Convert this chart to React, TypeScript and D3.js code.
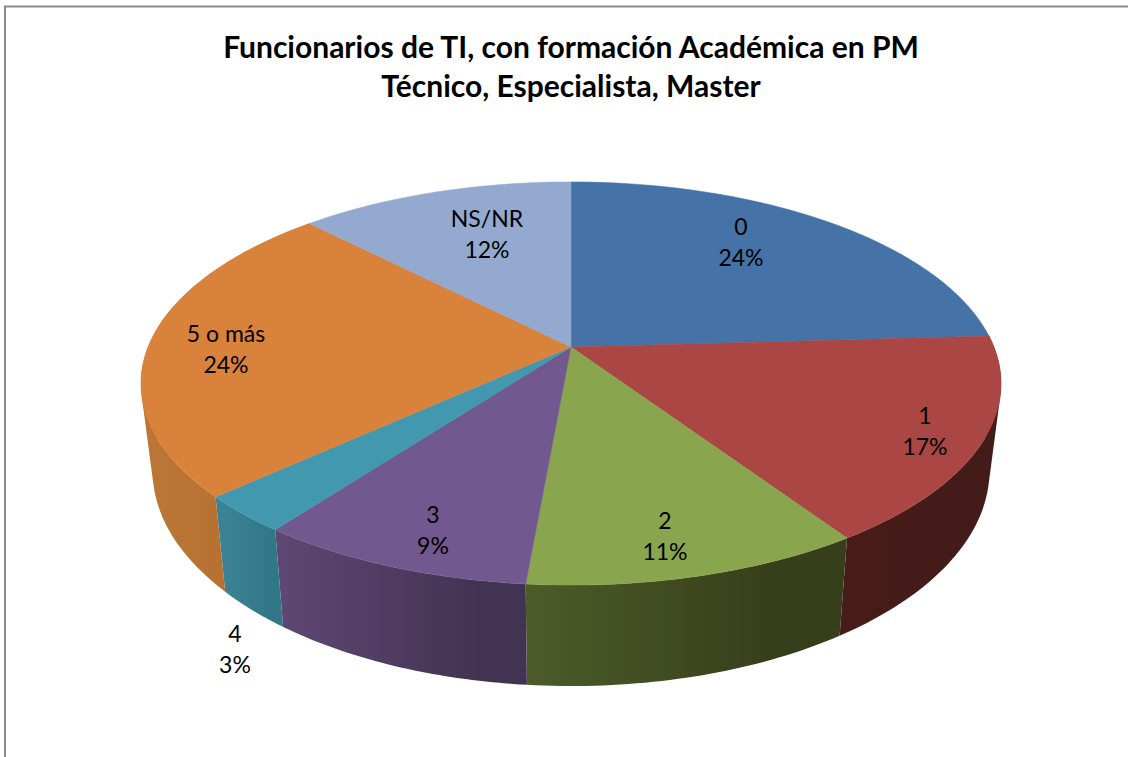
import { useEffect, useRef } from 'react';
import * as d3 from 'd3';

const categories = ['0', '1', '2', '3', '4', '5 o más', 'NS/NR'];
const shares = [24.1, 16.55, 10.75, 8.8, 3, 24.49, 12.31];
const topColors = ['#4572a7', '#aa4643', '#89a54e', '#71588f', '#4198af', '#d9823c', '#93a9cf'];
const wallLeft = ['#2b4566', '#471c19', '#4c5c28', '#5e4772', '#3b8295', '#bb7635', '#5a6a85'];
const wallRight = ['#2b4566', '#431b18', '#363e1b', '#433353', '#327788', '#b36e30', '#5a6a85'];
const titleLines = ['Funcionarios de TI, con formación Académica en PM', 'Técnico, Especialista, Master'];

const width = 1128;
const height = 757;
const cx = 571;
const cy = 347;

// label centres, not derived from the slices because the original placed them by hand
const labelSpots = [[741, 243], [925, 432], [665, 537], [433, 531], [235, 650], [226, 350], [487, 235]];

// the pie is seen in perspective: the centre sits above the middle of the ellipse
const a = 423;
const b = 195;
const q = 0.181;
const topPoint = (angle: number): [number, number] => {
    const u = Math.sin(angle);
    const v = -Math.cos(angle);
    const d = 1 - q * v;
    return [cx + (a * u) / d, cy + (b * v) / d];
};
const bottomPoint = (angle: number): [number, number] => {
    const [x, y] = topPoint(angle);
    return [cx + 0.973 * (x - cx), 1.07 * y + 60];
};

const App = () => {
    const chartRef = useRef<SVGSVGElement>(null);

    useEffect(() => {
        const svg = d3.select(chartRef.current);
        svg.selectAll('*').remove();

        const arcs = d3.pie<number>().sort(null)(shares);
        const line = d3.line();
        const sample = (s: d3.PieArcDatum<number>) =>
            d3.range(0, 41).map(i => s.startAngle + ((s.endAngle - s.startAngle) * i) / 40);

        // frame, cut off by the right and bottom edges
        svg.append('path')
            .attr('d', `M5,${height}V6.5H${width}`)
            .attr('fill', 'none')
            .attr('stroke', '#8a8a8a')
            .attr('stroke-width', 2);

        const defs = svg.append('defs');
        arcs.forEach((s, i) => {
            const angles = sample(s);
            const xs = angles.map(t => bottomPoint(t)[0]);
            const grad = defs.append('linearGradient')
                .attr('id', `wall-${i}`)
                .attr('gradientUnits', 'userSpaceOnUse')
                .attr('x1', d3.min(xs))
                .attr('x2', d3.max(xs))
                .attr('y1', 0)
                .attr('y2', 0);
            grad.append('stop').attr('offset', 0).attr('stop-color', wallLeft[i]);
            grad.append('stop').attr('offset', 0.8).attr('stop-color', wallRight[i]);
        });

        // side walls as small quads, so the outline also follows the tangent at both ends
        const wallPath = (s: d3.PieArcDatum<number>) => {
            const angles = sample(s);
            return d3.pairs(angles).map(([t0, t1]) => {
                const quad = [topPoint(t0), topPoint(t1), bottomPoint(t1), bottomPoint(t0)];
                return line(d3.polygonArea(quad) < 0 ? quad.reverse() : quad) + 'Z';
            }).join('');
        };
        svg.append('g')
            .selectAll('path')
            .data(arcs.filter((_, i) => i >= 1 && i <= 5))
            .join('path')
            .attr('d', wallPath)
            .attr('fill', s => `url(#wall-${s.index})`);

        // top faces
        svg.append('g')
            .selectAll('path')
            .data(arcs)
            .join('path')
            .attr('d', s => line([[cx, cy], ...sample(s).map(topPoint)]) + 'Z')
            .attr('fill', s => topColors[s.index])
            .attr('stroke', s => topColors[s.index])
            .attr('stroke-width', 0.5);

        const title = svg.append('text')
            .attr('text-anchor', 'middle')
            .attr('font-family', 'Lato')
            .attr('font-weight', 700)
            .attr('font-size', 30)
            .attr('fill', '#000');
        titleLines.forEach((t, i) => {
            title.append('tspan').attr('x', cx).attr('y', 58 + i * 39).text(t);
        });

        const total = d3.sum(shares);
        const labels = svg.append('g')
            .attr('text-anchor', 'middle')
            .attr('font-family', 'Lato')
            .attr('font-size', 23)
            .attr('fill', '#000');
        categories.forEach((c, i) => {
            const [x, y] = labelSpots[i];
            const t = labels.append('text');
            t.append('tspan').attr('x', x).attr('y', y - 8).text(c);
            t.append('tspan').attr('x', x).attr('y', y + 23).text(`${Math.round((shares[i] / total) * 100)}%`);
        });
    }, []);

    return (
        <svg
            ref={chartRef}
            width={width}
            height={height}
            viewBox={`0 0 ${width} ${height}`}
            style={{ position: 'absolute', left: 0, top: 0, background: '#fff' }}
        />
    );
};

export default App;
